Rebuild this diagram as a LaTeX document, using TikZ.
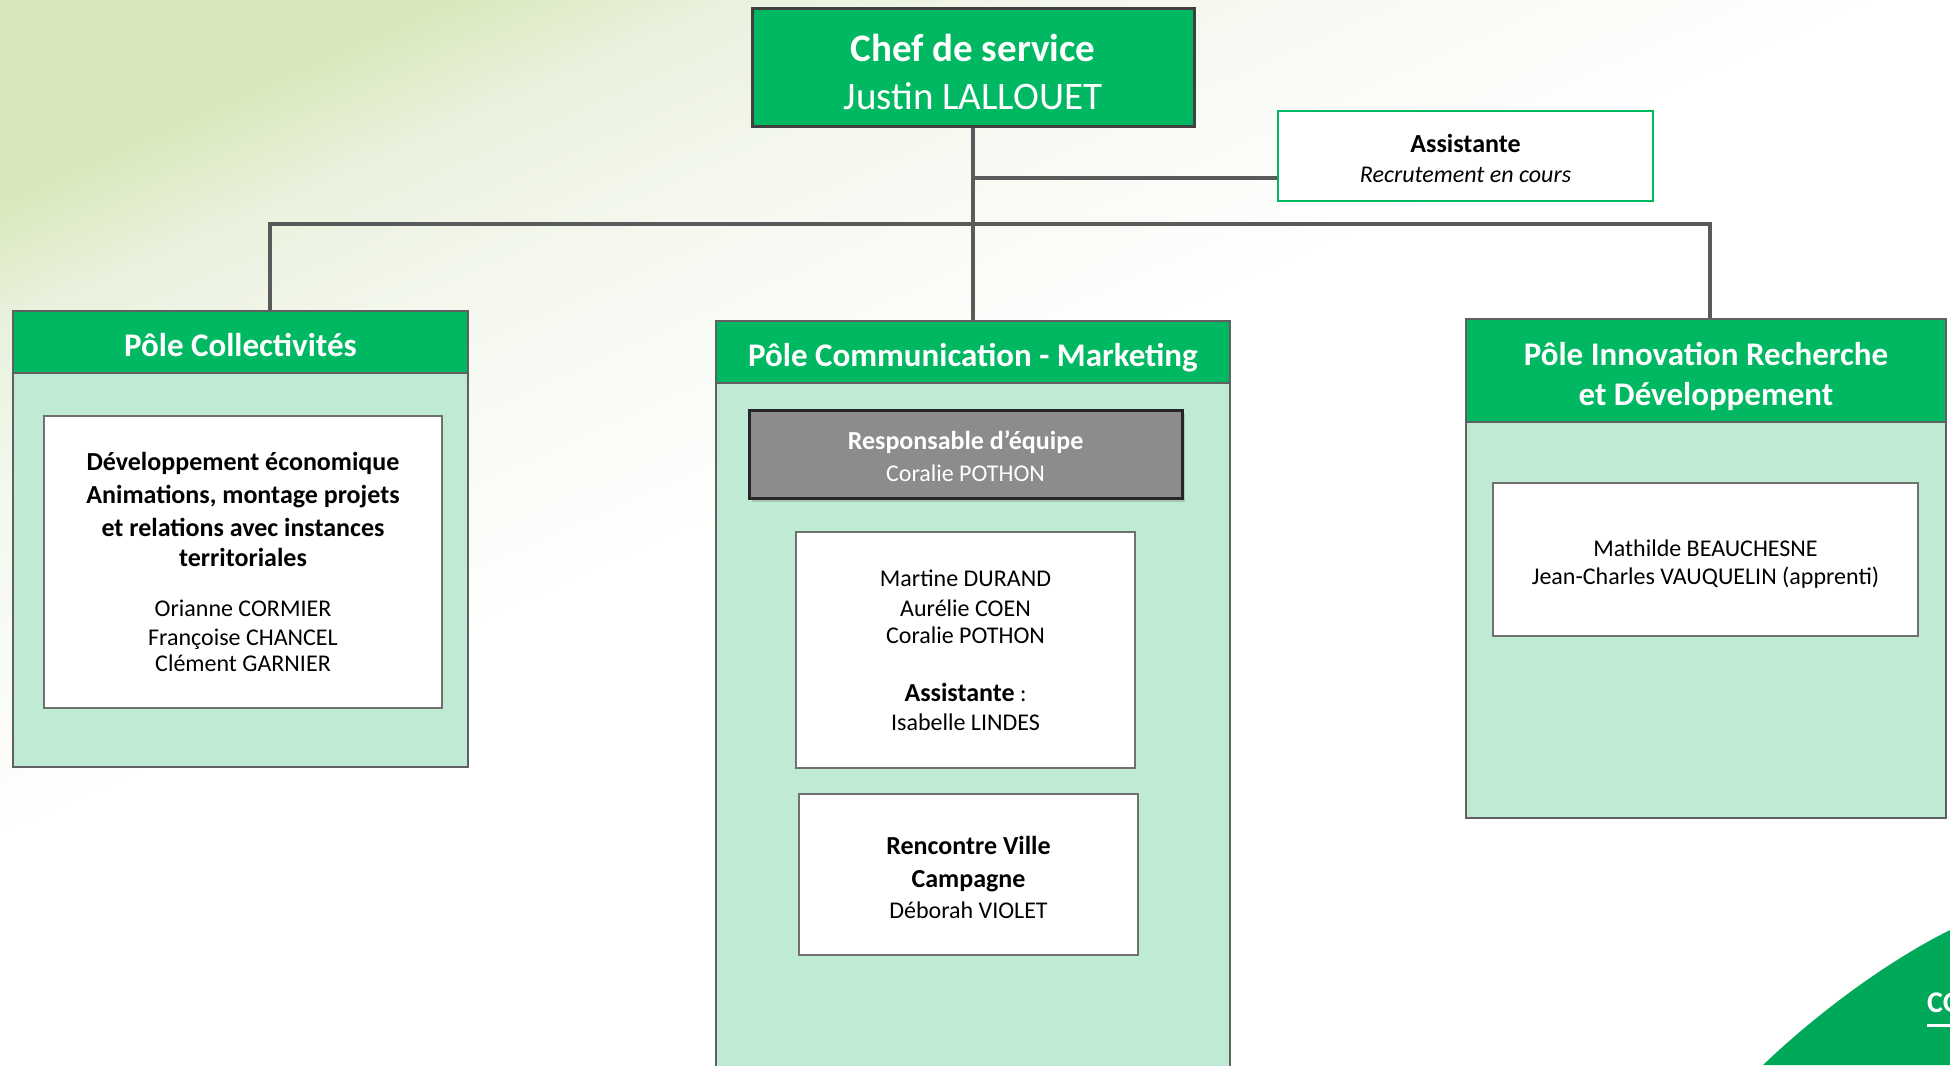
\documentclass[tikz,border=0pt]{standalone}
\usepackage{fontspec}
\setmainfont{Carlito}
\usetikzlibrary{shadows}
\definecolor{headgreen}{HTML}{00B862}
\definecolor{polemint}{HTML}{BFEBD5}
\definecolor{cornergreen}{HTML}{00A859}
\definecolor{linegray}{HTML}{5A5A5A}
\definecolor{framegray}{HTML}{606060}
\definecolor{cardgray}{HTML}{707070}
\definecolor{respgray}{HTML}{8C8C8C}
\definecolor{bggreen}{HTML}{D8E8BB}
\definecolor{bgmid}{HTML}{EAF1DD}
\definecolor{bgpale}{HTML}{F3F7EC}
\newcommand{\cardtitle}[1]{{\fontsize{26}{32}\selectfont\bfseries #1}}
\newcommand{\padtop}[1]{\rule{0pt}{#1pt}}

\begin{document}
\begin{tikzpicture}[x=1pt, y=-1pt,
                wire/.style={draw=linegray, line width=4pt, line join=miter},
                polehead/.style={draw=framegray, line width=2.5pt, fill=headgreen, text=white, align=center, inner sep=0pt, text depth=0pt, font=\fontsize{33}{40}\selectfont\bfseries},
                polebody/.style={draw=framegray, line width=2.5pt, fill=polemint, inner sep=0pt},
                card/.style={draw=cardgray, line width=2pt, fill=white, align=center, inner sep=0pt, text depth=0pt, font=\fontsize{24}{29}\selectfont}]
                \useasboundingbox (0,0) rectangle (1950,1065);
                \clip (0,0) rectangle (1950,1065);
                \fill[white] (0,0) rectangle (1950,1065);
                \begin{scope}[transform canvas={rotate around={24:(0,0)}}]
                \fill[bggreen] (-3000,-3000) rectangle (3000,181);
                \shade[top color=bggreen, bottom color=bgmid] (-3000,180) rectangle (3000,296);
                \shade[top color=bgmid, bottom color=bgpale] (-3000,295) rectangle (3000,441);
                \shade[top color=bgpale, bottom color=white] (-3000,440) rectangle (3000,780);
                \end{scope}
                \fill[cornergreen] (1763,1065) .. controls (1810,1020) and (1880,965) .. (1950,930) -- (1950,1065) -- cycle;
                \node[anchor=base west, inner sep=0pt, text=white, font=\fontsize{30}{36}\selectfont\bfseries] (co) at (1927,1012) {CO};
                \draw[white, line width=3pt] ([yshift=-13pt]co.base west) -- ([yshift=-13pt]co.base east);

                \node[draw=black!75, line width=3pt, fill=headgreen, text=white, align=center, text depth=0pt, minimum width=442pt, minimum height=117pt, font=\fontsize{39}{48}\selectfont] (chef) at (973,67.5) {\padtop{35}\textbf{Chef de service}\\ Justin LALLOUET};
                \node[draw=headgreen, line width=2.5pt, fill=white, align=center, text depth=0pt, minimum width=375pt, minimum height=90pt, font=\fontsize{24}{30}\selectfont] (asst) at (1465.5,156) {\padtop{22}\cardtitle{Assistante}\\ \textit{Recrutement en cours}};

                \node[polebody, minimum width=455pt, minimum height=456pt] (colbody) at (240.5,539) {};
                \node[polehead, minimum width=455pt, minimum height=62pt] (col) at (240.5,342) {\padtop{28}Pôle Collectivités};
                \node[polebody, minimum width=514pt, minimum height=759pt] (combody) at (973,700.5) {};
                \node[polehead, minimum width=514pt, minimum height=62pt] (com) at (973,352) {\padtop{29}Pôle Communication - Marketing};
                \node[polebody, minimum width=480pt, minimum height=499pt] (innbody) at (1706,568.5) {};
                \node[polehead, minimum width=480pt, minimum height=103pt] (inn) at (1706,370.5) {\padtop{29}Pôle Innovation Recherche\\ et Développement};

                \node[card, minimum width=398pt, minimum height=292pt] (colcard) at (243,562) {\cardtitle{Développement économique}\\[4pt] \cardtitle{Animations, montage projets}\\[4pt] \cardtitle{et relations avec instances}\\[1pt] \cardtitle{territoriales}\\[21pt] Orianne CORMIER\\ Françoise CHANCEL\\[-3pt] Clément GARNIER};
                \node[draw=black!85, line width=3pt, fill=respgray, text=white, align=center, inner sep=0pt, text depth=0pt, minimum width=433pt, minimum height=88pt, font=\fontsize{24}{29}\selectfont, drop shadow={shadow xshift=3pt, shadow yshift=-4pt, opacity=0.35}] (resp) at (965.5,454) {\padtop{23}\cardtitle{Responsable d’équipe}\\[3pt] Coralie POTHON};
                \node[card, minimum width=339pt, minimum height=236pt] (team) at (965.5,650) {Martine DURAND\\[1pt] Aurélie COEN\\[-2pt] Coralie POTHON\\[29pt] \cardtitle{Assistante} :\\ Isabelle LINDES};
                \node[card, minimum width=339pt, minimum height=161pt] (rvc) at (968.5,874.5) {\padtop{23}\cardtitle{Rencontre Ville}\\[4pt] \cardtitle{Campagne}\\[2pt] Déborah VIOLET};
                \node[card, minimum width=425pt, minimum height=153pt] (inncard) at (1705.5,559.5) {\padtop{21}Mathilde BEAUCHESNE\\[-1pt] Jean-Charles VAUQUELIN (apprenti)};

                \coordinate (asj) at (973,178);
                \coordinate (buscol) at (270,224);
                \coordinate (businn) at (1710,224);
                \draw[wire] (chef.south) -- (com.north);
                \draw[wire] (asj) -- (asj -| asst.west);
                \draw[wire] (buscol |- col.north) -- (buscol) -- (businn) -- (businn |- inn.north);
\end{tikzpicture}
\end{document}
